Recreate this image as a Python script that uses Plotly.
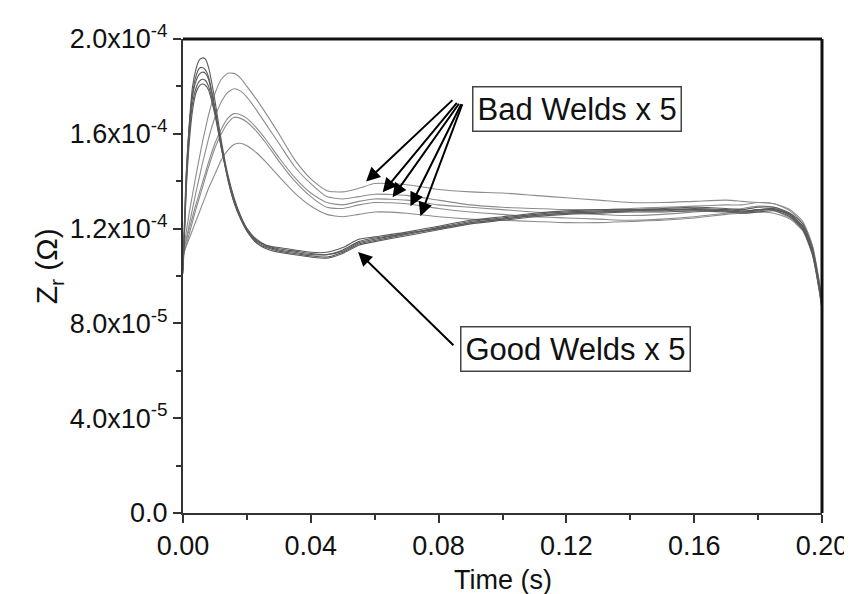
import plotly.graph_objects as go

# time (s)
time_s = [0, .001, .002, .003, .004, .005, .006, .007, .008, .010, .012, .014, .016, .018, .020,
          .023, .026, .030, .035, .040, .045, .050, .055, .060, .070, .080, .090, .100, .110,
          .120, .130, .140, .150, .160, .170, .175, .180, .185, .190, .194, .197, .199, .200]

# Z_r in units of 1e-4 Ohm
good_1 = [1.03, 1.42, 1.65, 1.80, 1.87, 1.91, 1.92, 1.915, 1.88, 1.74, 1.57, 1.43, 1.33, 1.255, 1.20,
          1.15, 1.13, 1.12, 1.11, 1.10, 1.10, 1.12, 1.155, 1.165, 1.185, 1.21, 1.235, 1.25, 1.265,
          1.275, 1.28, 1.28, 1.285, 1.29, 1.285, 1.28, 1.29, 1.29, 1.265, 1.22, 1.12, 0.98, 0.89]
good_2 = [1.02, 1.40, 1.63, 1.77, 1.84, 1.875, 1.88, 1.87, 1.84, 1.71, 1.55, 1.42, 1.32, 1.25, 1.195,
          1.145, 1.125, 1.11, 1.10, 1.09, 1.09, 1.11, 1.145, 1.16, 1.18, 1.205, 1.23, 1.245, 1.26,
          1.27, 1.275, 1.28, 1.28, 1.285, 1.28, 1.275, 1.28, 1.285, 1.26, 1.21, 1.11, 0.97, 0.88]
good_3 = [1.04, 1.43, 1.64, 1.76, 1.82, 1.85, 1.86, 1.855, 1.83, 1.70, 1.55, 1.41, 1.31, 1.24, 1.19,
          1.14, 1.12, 1.105, 1.095, 1.085, 1.08, 1.10, 1.135, 1.15, 1.175, 1.20, 1.225, 1.24, 1.255,
          1.265, 1.27, 1.275, 1.275, 1.28, 1.275, 1.27, 1.275, 1.28, 1.255, 1.20, 1.10, 0.96, 0.87]
good_4 = [1.01, 1.38, 1.60, 1.73, 1.79, 1.82, 1.83, 1.825, 1.80, 1.69, 1.54, 1.41, 1.31, 1.245, 1.19,
          1.14, 1.115, 1.10, 1.09, 1.08, 1.075, 1.095, 1.13, 1.145, 1.17, 1.195, 1.22, 1.235, 1.25,
          1.26, 1.265, 1.27, 1.27, 1.275, 1.27, 1.265, 1.27, 1.275, 1.25, 1.195, 1.09, 0.95, 0.86]
good_5 = [1.03, 1.36, 1.57, 1.70, 1.77, 1.80, 1.81, 1.805, 1.785, 1.68, 1.54, 1.42, 1.32, 1.25, 1.20,
          1.155, 1.13, 1.115, 1.105, 1.095, 1.09, 1.105, 1.14, 1.155, 1.18, 1.20, 1.225, 1.24, 1.255,
          1.265, 1.27, 1.275, 1.28, 1.28, 1.275, 1.27, 1.28, 1.28, 1.26, 1.205, 1.10, 0.96, 0.88]

bad_1 = [1.10, 1.185, 1.27, 1.345, 1.42, 1.49, 1.56, 1.62, 1.68, 1.77, 1.83, 1.855, 1.855, 1.835, 1.80,
         1.745, 1.685, 1.60, 1.49, 1.41, 1.36, 1.355, 1.37, 1.39, 1.385, 1.365, 1.355, 1.35, 1.34,
         1.33, 1.32, 1.31, 1.31, 1.315, 1.32, 1.315, 1.31, 1.305, 1.28, 1.23, 1.13, 0.99, 0.90]
bad_2 = [1.09, 1.155, 1.22, 1.285, 1.35, 1.41, 1.47, 1.525, 1.58, 1.67, 1.735, 1.775, 1.79, 1.78, 1.755,
         1.70, 1.64, 1.56, 1.46, 1.39, 1.335, 1.325, 1.335, 1.345, 1.34, 1.32, 1.30, 1.29, 1.285,
         1.28, 1.28, 1.285, 1.29, 1.295, 1.30, 1.30, 1.31, 1.305, 1.275, 1.22, 1.12, 0.98, 0.89]
bad_3 = [1.10, 1.15, 1.20, 1.25, 1.30, 1.345, 1.39, 1.435, 1.48, 1.56, 1.62, 1.665, 1.685, 1.68, 1.665,
         1.625, 1.575, 1.50, 1.415, 1.35, 1.31, 1.30, 1.315, 1.325, 1.32, 1.30, 1.29, 1.28, 1.27,
         1.265, 1.26, 1.255, 1.26, 1.27, 1.28, 1.285, 1.295, 1.29, 1.26, 1.21, 1.11, 0.97, 0.88]
bad_4 = [1.08, 1.13, 1.18, 1.23, 1.28, 1.325, 1.37, 1.415, 1.46, 1.54, 1.60, 1.645, 1.67, 1.665, 1.65,
         1.61, 1.56, 1.485, 1.40, 1.335, 1.29, 1.285, 1.30, 1.31, 1.305, 1.285, 1.27, 1.26, 1.25,
         1.245, 1.24, 1.235, 1.24, 1.25, 1.265, 1.27, 1.28, 1.275, 1.245, 1.195, 1.10, 0.96, 0.87]
bad_5 = [1.09, 1.125, 1.16, 1.195, 1.23, 1.265, 1.30, 1.335, 1.37, 1.43, 1.49, 1.53, 1.555, 1.56, 1.55,
         1.52, 1.48, 1.42, 1.35, 1.295, 1.26, 1.25, 1.26, 1.27, 1.265, 1.25, 1.24, 1.235, 1.23,
         1.225, 1.225, 1.23, 1.235, 1.245, 1.26, 1.265, 1.27, 1.265, 1.24, 1.19, 1.09, 0.95, 0.86]

UNIT = 1e-4
good_welds = [good_1, good_2, good_3, good_4, good_5]
bad_welds = [bad_1, bad_2, bad_3, bad_4, bad_5]

x_ticks = [0.0, 0.04, 0.08, 0.12, 0.16, 0.20]
x_labels = ["0.00", "0.04", "0.08", "0.12", "0.16", "0.20"]
y_ticks = [0.0, 4e-5, 8e-5, 1.2e-4, 1.6e-4, 2.0e-4]
y_labels = ["0.0", "4.0x10<sup>-5</sup>", "8.0x10<sup>-5</sup>", "1.2x10<sup>-4</sup>",
            "1.6x10<sup>-4</sup>", "2.0x10<sup>-4</sup>"]

fig = go.Figure()
for s in bad_welds:
    fig.add_trace(go.Scatter(x=time_s, y=[v * UNIT for v in s], mode="lines",
                             line=dict(color="#8c8c8c", width=1.1, shape="spline", smoothing=0.6),
                             showlegend=False, hoverinfo="skip"))
for s in good_welds:
    fig.add_trace(go.Scatter(x=time_s, y=[v * UNIT for v in s], mode="lines",
                             line=dict(color="#5a5a5a", width=1.1, shape="spline", smoothing=0.6),
                             showlegend=False, hoverinfo="skip"))

FONT = "Liberation Sans, Arial, sans-serif"
axis_common = dict(showgrid=False, zeroline=False, showline=True, linecolor="#333333", linewidth=2,
                   ticks="outside", ticklen=8, tickwidth=1.5, tickcolor="#333333", mirror=False)

fig.update_xaxes(range=[0, 0.2], tickmode="array", tickvals=x_ticks, ticktext=x_labels,
                 tickfont=dict(family=FONT, size=27, color="#111111"),
                 minor=dict(dtick=0.02, ticks="outside", ticklen=5, tickwidth=1.5, tickcolor="#333333"),
                 **axis_common)
fig.update_yaxes(range=[0, 2.0e-4], tickmode="array", tickvals=y_ticks, ticktext=y_labels,
                 tickfont=dict(family=FONT, size=27, color="#111111"),
                 minor=dict(dtick=2e-5, tick0=0, ticks="outside", ticklen=5, tickwidth=1.5, tickcolor="#333333"),
                 **axis_common)

# frame top & right
fig.add_shape(type="line", xref="paper", yref="paper", x0=0, x1=1, y0=1, y1=1,
              line=dict(color="#111111", width=3))
fig.add_shape(type="line", xref="paper", yref="paper", x0=1, x1=1, y0=0, y1=1,
              line=dict(color="#111111", width=3))

# arrows for bad welds (head positions / tail positions in data units)
bad_heads = [(0.0573, 1.399e-4), (0.0625, 1.353e-4), (0.0656, 1.332e-4), (0.0712, 1.294e-4), (0.0743, 1.252e-4)]
bad_tails = [(0.0848, 1.748e-4), (0.0861, 1.737e-4), (0.0867, 1.733e-4), (0.0873, 1.731e-4), (0.0876, 1.731e-4)]
for (hx, hy), (tx, ty) in zip(bad_heads, bad_tails):
    fig.add_annotation(x=hx, y=hy, ax=tx, ay=ty, xref="x", yref="y", axref="x", ayref="y",
                       showarrow=True, arrowhead=2, arrowsize=1.4, arrowwidth=2, arrowcolor="#000000", text="")
fig.add_annotation(x=0.0548, y=1.101e-4, ax=0.0851, ay=0.702e-4, xref="x", yref="y", axref="x", ayref="y",
                   showarrow=True, arrowhead=2, arrowsize=1.4, arrowwidth=2, arrowcolor="#000000", text="")

box_font = dict(family=FONT, size=31, color="#111111")
fig.add_annotation(x=0.1234, y=1.705e-4, xref="x", yref="y", text="Bad Welds x 5", showarrow=False,
                   font=box_font, bordercolor="#444444", borderwidth=1.5, borderpad=4, bgcolor="white")
fig.add_annotation(x=0.1230, y=0.693e-4, xref="x", yref="y", text="Good Welds x 5", showarrow=False,
                   font=box_font, bordercolor="#444444", borderwidth=1.5, borderpad=4, bgcolor="white")

# axis titles
fig.add_annotation(x=0.5, y=-0.141, xref="paper", yref="paper", text="Time (s)", showarrow=False,
                   font=dict(family=FONT, size=27, color="#111111"), xanchor="center", yanchor="middle")
fig.add_annotation(x=-0.21, y=0.52, xref="paper", yref="paper", text="Z<sub>r</sub> (\u03a9)", showarrow=False,
                   textangle=-90, font=dict(family=FONT, size=30, color="#111111"),
                   xanchor="center", yanchor="middle")

fig.update_layout(width=852, height=594, margin=dict(l=175, r=31, t=29, b=89),
                  paper_bgcolor="white", plot_bgcolor="white", showlegend=False)

fig.write_html("out.html")
